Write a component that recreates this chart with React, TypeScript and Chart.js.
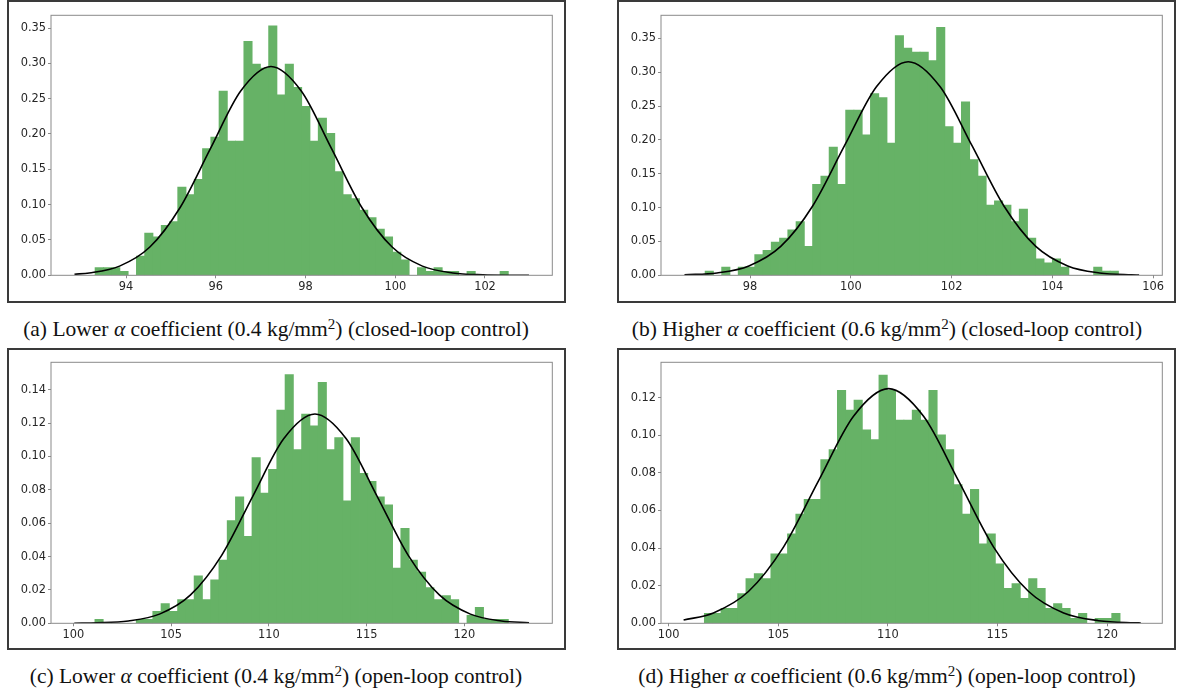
import React, { useEffect, useRef } from 'react';
import { Chart, registerables } from 'chart.js';

Chart.register(...registerables);

// ---------------- data ----------------
// (a) Lower alpha, closed-loop
const binStartA = 93.31;
const binWidthA = 0.1842;
const densityA = [
  0.0109, 0.0109, 0.0109, 0.0054, 0, 0.0272, 0.0597, 0.0543, 0.0706, 0.076,
  0.1249, 0.114, 0.1358, 0.1792, 0.1955, 0.2606, 0.19, 0.19, 0.3312, 0.2987,
  0.2932, 0.353, 0.2552, 0.2987, 0.2661, 0.2389, 0.19, 0.2226, 0.2009, 0.1466,
  0.114, 0.1086, 0.0923, 0.0815, 0.0652, 0.0543, 0.0326, 0.0217, 0, 0.0109,
  0.0054, 0.0109, 0.0054, 0.0054, 0, 0.0054, 0, 0, 0, 0.0054,
];
const curveXA = [92.85, 93.18, 93.855, 94.53, 95.205, 95.88, 96.555, 97.23, 97.905, 98.58, 99.255, 99.93, 100.605, 101.28, 101.955, 102.63, 102.98];
const curveYA = [0.0015, 0.0033, 0.013, 0.04, 0.096, 0.1792, 0.2608, 0.2955, 0.2608, 0.1792, 0.096, 0.04, 0.013, 0.0033, 0.00065, 0.0001, 0.00003];
const xTicksA = [94, 96, 98, 100, 102];
const yTicksA = [0, 0.05, 0.1, 0.15, 0.2, 0.25, 0.3, 0.35];

// (b) Higher alpha, closed-loop
const binStartB = 97.11;
const binWidthB = 0.164;
const densityB = [
  0.0061, 0, 0.0122, 0, 0.0122, 0.0122, 0.0305, 0.0366, 0.0488, 0.0549,
  0.0671, 0.0793, 0.0427, 0.1342, 0.1464, 0.1891, 0.1342, 0.244, 0.244, 0.2074,
  0.2684, 0.2623, 0.1952, 0.3538, 0.3355, 0.3294, 0.3294, 0.3172, 0.366, 0.2196,
  0.1952, 0.2562, 0.1708, 0.1464, 0.1037, 0.1098, 0.1037, 0.0793, 0.0976, 0.0549,
  0.0244, 0.0183, 0.0244, 0.0122, 0, 0, 0, 0.0122, 0.0061, 0.0061,
];
const curveXB = [96.7, 97.345, 97.978, 98.61, 99.243, 99.875, 100.508, 101.14, 101.773, 102.405, 103.038, 103.67, 104.303, 104.935, 105.568, 105.72];
const curveYB = [0.00067, 0.0035, 0.0139, 0.0427, 0.1024, 0.1914, 0.2784, 0.3155, 0.2784, 0.1914, 0.1024, 0.0427, 0.0139, 0.0035, 0.0007, 0.00045];
const xTicksB = [98, 100, 102, 104, 106];
const yTicksB = [0, 0.05, 0.1, 0.15, 0.2, 0.25, 0.3, 0.35];

// (c) Lower alpha, open-loop
const binStartC = 101.107;
const binWidthC = 0.4229;
const densityC = [
  0.0024, 0, 0, 0, 0, 0.0024, 0.0024, 0.0071, 0.0118, 0.0071,
  0.0142, 0.0142, 0.0284, 0.0142, 0.026, 0.0378, 0.0615, 0.0757, 0.052, 0.0993,
  0.078, 0.0922, 0.1277, 0.149, 0.1041, 0.1253, 0.1183, 0.1443, 0.1041, 0.1112,
  0.0733, 0.1112, 0.0899, 0.0851, 0.0757, 0.071, 0.0331, 0.0568, 0.0378, 0.0307,
  0.0213, 0.0142, 0.0166, 0.0142, 0, 0.0047, 0.0095, 0.0024, 0.0024, 0.0024,
];
const curveXC = [100.05, 101.227, 102.817, 104.408, 105.998, 107.589, 109.179, 110.77, 112.36, 113.95, 115.541, 117.132, 118.722, 120.313, 121.903, 123.31];
const curveYC = [0.00007, 0.00028, 0.0014, 0.0055, 0.017, 0.0407, 0.0761, 0.1107, 0.1254, 0.1107, 0.0761, 0.0407, 0.017, 0.0055, 0.0014, 0.00034];
const xTicksC = [100, 105, 110, 115, 120];
const yTicksC = [0, 0.02, 0.04, 0.06, 0.08, 0.1, 0.12, 0.14];

// (d) Higher alpha, open-loop
const binStartD = 101.628;
const binWidthD = 0.3793;
const densityD = [
  0.0053, 0.0053, 0.0079, 0.0079, 0.0158, 0.0237, 0.0264, 0.0237, 0.0369, 0.0369,
  0.0475, 0.058, 0.0659, 0.0659, 0.087, 0.0923, 0.1239, 0.1134, 0.1187, 0.1028,
  0.0976, 0.1319, 0.1239, 0.1081, 0.1081, 0.1134, 0.1081, 0.1239, 0.1002, 0.0923,
  0.0738, 0.058, 0.0712, 0.0422, 0.0475, 0.0316, 0.0185, 0.0211, 0.0132, 0.0237,
  0.0185, 0.0079, 0.0105, 0.0079, 0.0026, 0.0053, 0, 0.0026, 0.0026, 0.0053,
];
const curveXD = [100.68, 102.04, 103.638, 105.236, 106.834, 108.432, 110.03, 111.628, 113.226, 114.824, 116.422, 118.02, 119.618, 121.216, 121.54];
const curveYD = [0.00173, 0.0055, 0.0169, 0.0405, 0.0757, 0.1101, 0.1248, 0.1101, 0.0757, 0.0405, 0.0169, 0.0055, 0.0014, 0.00027, 0.00019];
const xTicksD = [100, 105, 110, 115, 120];
const yTicksD = [0, 0.02, 0.04, 0.06, 0.08, 0.1, 0.12];

// captions
const captionTags = ['(a) Lower', '(b) Higher', '(c) Lower', '(d) Higher'];
const captionCoefs = ['0.4', '0.6', '0.4', '0.6'];
const captionModes = ['closed-loop control', 'closed-loop control', 'open-loop control', 'open-loop control'];

// ---------------- layout ----------------
type Panel = {
  binStart: number; binWidth: number; density: number[];
  curveX: number[]; curveY: number[]; xTicks: number[]; yTicks: number[];
  xMin: number; xMax: number; yMax: number;
  box: { x: number; y: number; w: number; h: number };
  area: { l: number; t: number; r: number; b: number };
  capCx: number; capTop: number;
};

const panels: Panel[] = [
  {
    binStart: binStartA, binWidth: binWidthA, density: densityA, curveX: curveXA, curveY: curveYA,
    xTicks: xTicksA, yTicks: yTicksA, xMin: 92.327, xMax: 103.5, yMax: 0.368,
    box: { x: 7, y: 0, w: 559, h: 303 }, area: { l: 51, t: 15.3, r: 552.3, b: 275.3 },
    capCx: 276, capTop: 319,
  },
  {
    binStart: binStartB, binWidth: binWidthB, density: densityB, curveX: curveXB, curveY: curveYB,
    xTicks: xTicksB, yTicks: yTicksB, xMin: 96.234, xMax: 106.18, yMax: 0.384,
    box: { x: 617, y: 0, w: 559, h: 303 }, area: { l: 661, t: 15.3, r: 1162.3, b: 275.3 },
    capCx: 887, capTop: 319,
  },
  {
    binStart: binStartC, binWidth: binWidthC, density: densityC, curveX: curveXC, curveY: curveYC,
    xTicks: xTicksC, yTicks: yTicksC, xMin: 98.86, xMax: 124.5, yMax: 0.1564,
    box: { x: 7, y: 348, w: 559, h: 302 }, area: { l: 51, t: 362.3, r: 552.3, b: 623.3 },
    capCx: 276, capTop: 666,
  },
  {
    binStart: binStartD, binWidth: binWidthD, density: densityD, curveX: curveXD, curveY: curveYD,
    xTicks: xTicksD, yTicks: yTicksD, xMin: 99.649, xMax: 122.52, yMax: 0.1388,
    box: { x: 617, y: 348, w: 559, h: 302 }, area: { l: 661, t: 362.3, r: 1162.3, b: 623.3 },
    capCx: 887, capTop: 666,
  },
];

const framePlugin = {
  id: 'axesFrame',
  afterDatasetsDraw(chart: any) {
    const { ctx, chartArea: a } = chart;
    ctx.save();
    ctx.strokeStyle = '#8a8a8a';
    ctx.lineWidth = 1;
    ctx.strokeRect(a.left, a.top, a.right - a.left, a.bottom - a.top);
    ctx.restore();
  },
};

const tickFont = { family: '"DejaVu Sans", sans-serif', size: 11.4 };

function HistPanel({ p }: { p: Panel }) {
  const ref = useRef<HTMLCanvasElement | null>(null);
  useEffect(() => {
    const canvas = ref.current;
    if (!canvas) return;
    const centers = p.density.map((_, i) => p.binStart + p.binWidth * (i + 0.5));
    const padTop = p.area.t - p.box.y;
    const padRight = p.box.x + p.box.w - p.area.r;
    const yAxisW = p.area.l - p.box.x;
    const xAxisH = p.box.y + p.box.h - p.area.b;
    const chart = new Chart(canvas, {
      type: 'bar',
      data: {
        datasets: [
          {
            type: 'line',
            data: p.curveX.map((x, i) => ({ x, y: p.curveY[i] })),
            borderColor: '#000000',
            borderWidth: 1.6,
            pointRadius: 0,
            fill: false,
            cubicInterpolationMode: 'monotone',
            order: 0,
          } as any,
          {
            type: 'bar',
            data: centers.map((x, i) => ({ x, y: p.density[i] })),
            backgroundColor: 'rgb(102,178,102)',
            borderWidth: 0,
            inflateAmount: 0.4,
            categoryPercentage: 1,
            barPercentage: 1,
            grouped: false,
            order: 1,
          } as any,
        ],
      },
      options: {
        responsive: false,
        animation: false,
        devicePixelRatio: 1,
        events: [],
        layout: { padding: { top: padTop, right: padRight, left: 0, bottom: 0 } },
        plugins: { legend: { display: false }, tooltip: { enabled: false } },
        scales: {
          x: {
            type: 'linear',
            min: p.xMin,
            max: p.xMax,
            offset: false,
            grid: { display: true, drawOnChartArea: false, drawTicks: true, tickLength: 3, color: '#8a8a8a', offset: false },
            border: { display: false },
            ticks: {
              padding: 2, color: '#262626', font: tickFont, maxRotation: 0, autoSkip: false,
              callback: (v: any) => String(v),
            },
            afterBuildTicks: (s: any) => { s.ticks = p.xTicks.map((v) => ({ value: v })); },
            afterFit: (s: any) => { s.height = xAxisH; },
          },
          y: {
            type: 'linear',
            min: 0,
            max: p.yMax,
            grid: { display: true, drawOnChartArea: false, drawTicks: true, tickLength: 3, color: '#8a8a8a' },
            border: { display: false },
            ticks: {
              padding: 2, color: '#262626', font: tickFont, autoSkip: false,
              callback: (v: any) => Number(v).toFixed(2),
            },
            afterBuildTicks: (s: any) => { s.ticks = p.yTicks.map((v) => ({ value: v })); },
            afterFit: (s: any) => { s.width = yAxisW; },
          },
        },
      } as any,
      plugins: [framePlugin],
    });
    return () => chart.destroy();
  }, [p]);

  return (
    <canvas
      ref={ref}
      width={p.box.w}
      height={p.box.h}
      style={{ position: 'absolute', left: p.box.x, top: p.box.y, width: p.box.w, height: p.box.h }}
    />
  );
}

export default function App() {
  return (
    <div style={{ position: 'absolute', left: 0, top: 0, width: 1178, height: 696, background: '#fff', overflow: 'hidden' }}>
      {panels.map((p, i) => (
        <React.Fragment key={i}>
          <HistPanel p={p} />
          <div
            style={{
              position: 'absolute', left: p.box.x, top: p.box.y, width: p.box.w, height: p.box.h,
              border: '2px solid #3a3a3a', boxSizing: 'border-box', pointerEvents: 'none',
            }}
          />
          <div
            style={{
              position: 'absolute', left: p.capCx - 320, width: 640, top: p.capTop, textAlign: 'center',
              fontFamily: '"Liberation Serif", "Times New Roman", serif', fontSize: 21.5, lineHeight: 1,
              whiteSpace: 'nowrap', color: '#111',
            }}
          >
            {captionTags[i]} <span style={{ fontStyle: 'italic' }}>α</span> coefficient ({captionCoefs[i]} kg/mm
            <span style={{ position: 'relative', top: '-0.45em', fontSize: '0.7em' }}>2</span>) ({captionModes[i]})
          </div>
        </React.Fragment>
      ))}
    </div>
  );
}
